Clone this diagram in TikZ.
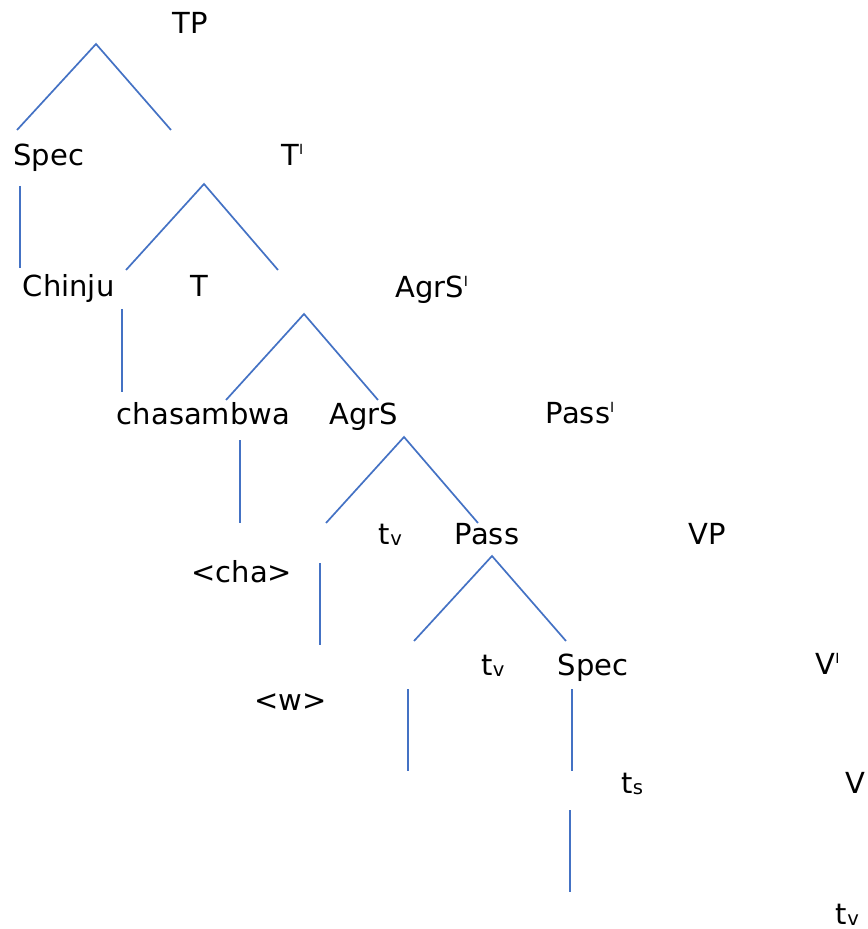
\documentclass[tikz,border=0pt]{standalone}
\usepackage{fontspec}
\setmainfont{DejaVu Sans}
\usetikzlibrary{positioning}
\definecolor{treeblue}{RGB}{68,114,196}
\tikzstyle{cat} = [
anchor=base west, inner sep=0pt, text=black,
font=\fontsize{14.5}{17}\selectfont
]
\tikzstyle{branch} = [draw=treeblue, line width=0.85pt]
\newcommand{\barsup}{\raisebox{5.5pt}{\fontsize{7}{8}\selectfont I}}
\newcommand{\trsub}[1]{\raisebox{-0.5pt}{\fontsize{9.8}{10}\selectfont #1}}

\begin{document}
\begin{tikzpicture}[x=0.5pt, y=-0.5pt]
			\useasboundingbox (0,0) rectangle (867,929);

			% Categorias
			\node (TP) [cat] at (172,34) {TP};
			\node (Spec_1) [cat] at (13,166) {Spec};
			\node (T_bar) [cat] at (281,166) {T\barsup};
			\node (Chinju) [cat] at (22.5,297) {Chinju};
			\node (T) [cat] at (190.5,297) {T};
			\node (AgrS_bar) [cat] at (395,298) {AgrS\barsup};
			\node (chasambwa) [cat] at (116.5,424) {chasambwa};
			\node (AgrS) [cat] at (329,424) {AgrS};
			\node (Pass_bar) [cat] at (545.5,423) {Pass\barsup};
			\node (t_v1) [cat] at (378.5,544) {t\trsub{v}};
			\node (Pass) [cat] at (454.5,544) {Pass};
			\node (VP) [cat] at (688.5,544) {VP};
			\node (cha) [cat] at (191,582) {<cha>};
			\node (t_v2) [cat] at (481,675) {t\trsub{v}};
			\node (Spec_2) [cat] at (557.5,675) {Spec};
			\node (V_bar) [cat] at (815,674) {V\barsup};
			\node (w) [cat] at (254,710) {<w>};
			\node (t_s) [cat] at (621,793) {t\trsub{s}};
			\node (V) [cat] at (845.5,793) {V};
			\node (t_v3) [cat] at (835.5,924) {t\trsub{v}};

			% Pontos dos ramos
			\coordinate (TP_top) at (96,44);
			\coordinate (TP_l) at (17,130);
			\coordinate (TP_r) at (171,130);
			\coordinate (Spec_a) at (20,186);
			\coordinate (Spec_b) at (20,268);
			\coordinate (T_top) at (204,184);
			\coordinate (T_l) at (126,270);
			\coordinate (T_r) at (278,270);
			\coordinate (Chinju_a) at (122,309);
			\coordinate (Chinju_b) at (122,392);
			\coordinate (AgrS_top) at (304,314);
			\coordinate (AgrS_l) at (226,400);
			\coordinate (AgrS_r) at (378,400);
			\coordinate (cha_a) at (240,440);
			\coordinate (cha_b) at (240,523);
			\coordinate (Pass_top) at (404,437);
			\coordinate (Pass_l) at (326,523);
			\coordinate (Pass_r) at (478,523);
			\coordinate (w_a) at (320,563);
			\coordinate (w_b) at (320,645);
			\coordinate (VP_top) at (492,556);
			\coordinate (VP_l) at (414,641);
			\coordinate (VP_r) at (566,641);
			\coordinate (tv_a) at (408,689);
			\coordinate (tv_b) at (408,771);
			\coordinate (ts_a) at (572,689);
			\coordinate (ts_b) at (572,771);
			\coordinate (ts_c) at (570,810);
			\coordinate (ts_d) at (570,892);

			% Ramos
			\draw [branch] (TP_l) -- (TP_top) -- (TP_r);
			\draw [branch] (Spec_a) -- (Spec_b);
			\draw [branch] (T_l) -- (T_top) -- (T_r);
			\draw [branch] (Chinju_a) -- (Chinju_b);
			\draw [branch] (AgrS_l) -- (AgrS_top) -- (AgrS_r);
			\draw [branch] (cha_a) -- (cha_b);
			\draw [branch] (Pass_l) -- (Pass_top) -- (Pass_r);
			\draw [branch] (w_a) -- (w_b);
			\draw [branch] (VP_l) -- (VP_top) -- (VP_r);
			\draw [branch] (tv_a) -- (tv_b);
			\draw [branch] (ts_a) -- (ts_b);
			\draw [branch] (ts_c) -- (ts_d);

\end{tikzpicture}
\end{document}
